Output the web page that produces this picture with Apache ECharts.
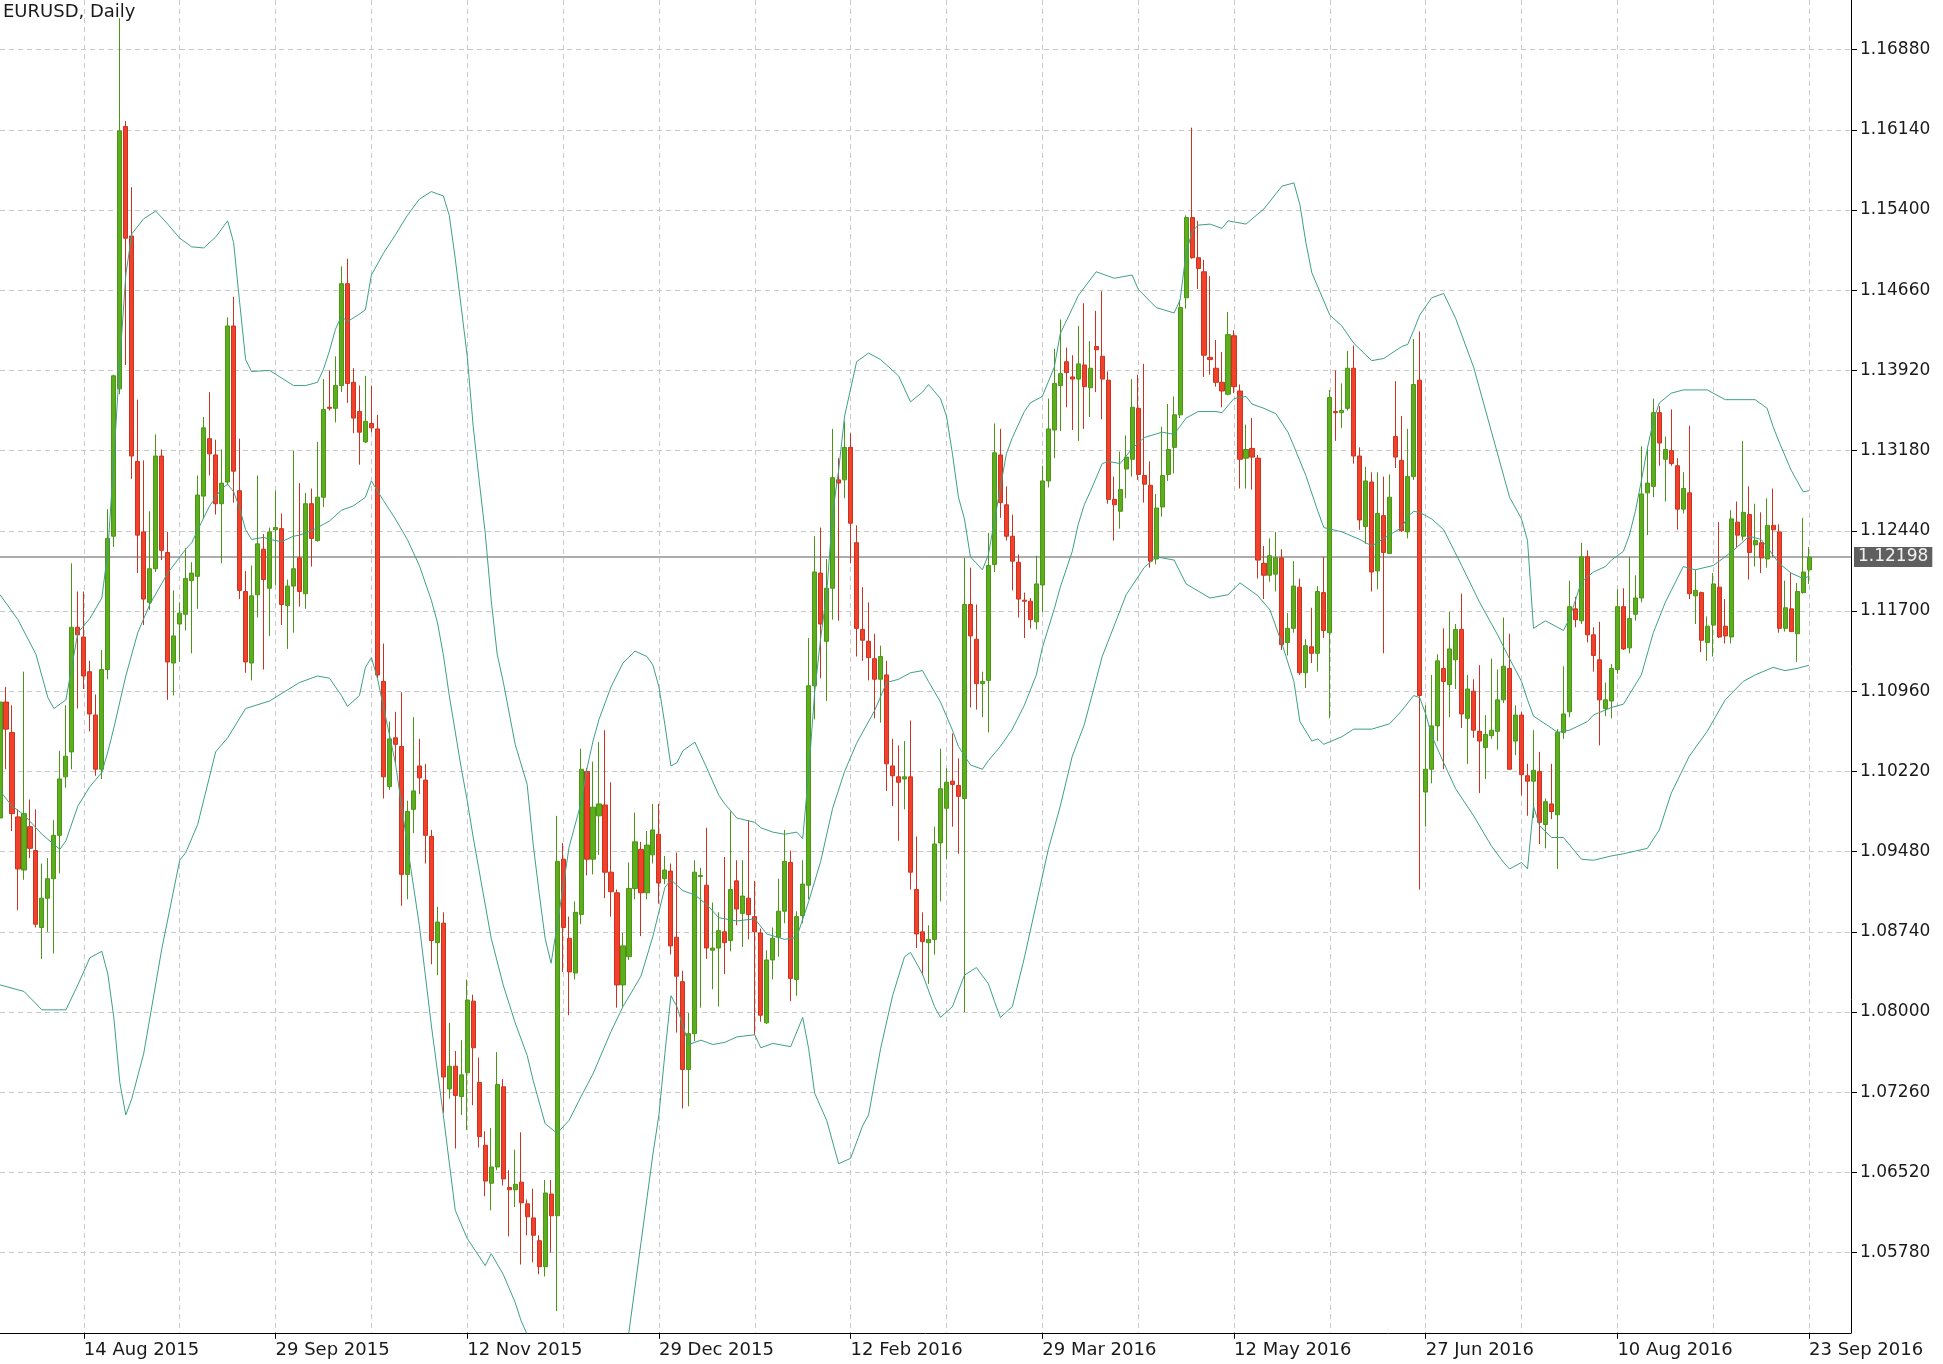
<!DOCTYPE html>
<html>
<head>
<meta charset="utf-8">
<script src="https://cdn.jsdelivr.net/npm/echarts/dist/echarts.min.js"></script>
<style>
html,body{margin:0;padding:0;background:#ffffff;}
#chart{width:1943px;height:1364px;}
</style>
</head>
<body>
<div id="chart"></div>
<script>
// ---------------- DATA ----------------
const chartTitle = 'EURUSD, Daily';
const currentPrice = 1.12198;

// daily bars, index 0 .. 302 (index 14 = 14 Aug 2015, index 302 = 23 Sep 2016)
const opens = [
1.0979,1.1086,1.1058,1.0980,1.0931,1.0971,1.0949,1.0878,1.0905,1.0923,
1.0963,1.1017,1.1040,1.1155,1.1146,1.1114,1.1074,1.1024,1.1116,1.1239,
1.1375,1.1617,1.1516,1.1308,1.1243,1.1178,1.1209,1.1313,1.1224,1.1122,
1.1158,1.1167,1.1198,1.1202,1.1276,1.1329,1.1314,1.1269,1.1289,1.1433,
1.1281,1.1188,1.1122,1.1185,1.1227,1.1191,1.1245,1.1246,1.1175,1.1193,
1.1219,1.1186,1.1269,1.1235,1.1275,1.1358,1.1357,1.1378,1.1472,1.1381,
1.1354,1.1326,1.1343,1.1338,1.1105,1.1008,1.1053,1.1045,1.0927,1.0987,
1.1027,1.1014,1.0962,1.0864,1.0882,1.0729,1.0750,1.0722,1.0744,1.0810,
1.0735,1.0677,1.0642,1.0657,1.0731,1.0638,1.0636,1.0643,1.0623,1.0610,
1.0589,1.0565,1.0632,1.0612,1.0941,1.0868,1.0836,1.0890,1.1022,1.0941,
1.0981,1.0991,1.0929,1.0910,1.0825,1.0851,1.0914,1.0950,1.0910,1.0945,
1.0964,1.0923,1.0930,1.0869,1.0828,1.0747,1.0780,1.0925,1.0917,1.0857,
1.0859,1.0874,1.0866,1.0921,1.0891,1.0905,1.0888,1.0873,1.0790,1.0848,
1.0869,1.0893,1.0938,1.0830,1.0889,1.0917,1.1101,1.1205,1.1142,1.1191,
1.1291,1.1291,1.1321,1.1233,1.1153,1.1142,1.1126,1.1107,1.1111,1.1027,
1.1017,1.1015,1.1017,1.0913,1.0874,1.0864,1.0867,1.0956,1.0988,1.1013,
1.1009,1.0997,1.1176,1.1144,1.1103,1.1106,1.1213,1.1314,1.1268,1.1239,
1.1215,1.1180,1.1179,1.1160,1.1194,1.1290,1.1337,1.1378,1.1400,1.1386,
1.1384,1.1397,1.1376,1.1414,1.1405,1.1383,1.1273,1.1262,1.1301,1.1310,
1.1357,1.1295,1.1286,1.1218,1.1266,1.1296,1.1321,1.1351,1.1459,1.1533,
1.1496,1.1483,1.1404,1.1394,1.1381,1.1370,1.1424,1.1373,1.1311,1.1320,
1.1311,1.1214,1.1203,1.1204,1.1219,1.1141,1.1154,1.1192,1.1113,1.1137,
1.1131,1.1187,1.1150,1.1354,1.1353,1.1357,1.1394,1.1313,1.1248,1.1289,
1.1207,1.1258,1.1223,1.1331,1.1309,1.1243,1.1294,1.1383,1.1003,1.1024,
1.1064,1.1117,1.1102,1.1125,1.1153,1.1071,1.1096,1.1059,1.1044,1.1055,
1.1059,1.1088,1.1117,1.1050,1.1074,1.1018,1.1013,1.1022,1.0973,1.0992,
1.0982,1.1058,1.1077,1.1172,1.1161,1.1220,1.1148,1.1125,1.1080,1.1087,
1.1116,1.1174,1.1136,1.1167,1.1182,1.1279,1.1285,1.1353,1.1310,1.1318,
1.1304,1.1264,1.1279,1.1184,1.1187,1.1141,1.1157,1.1192,1.1156,1.1146,
1.1252,1.1239,1.1259,1.1231,1.1233,1.1218,1.1249,1.1243,1.1154,1.1172,
1.1149,1.1187,1.1208
];
const highs = [
1.1103,1.1100,1.1083,1.0987,1.1114,1.0996,1.0987,1.0937,1.0942,1.0977,
1.1041,1.1083,1.1214,1.1188,1.1188,1.1124,1.1093,1.1134,1.1264,1.1388,
1.1717,1.1622,1.1561,1.1365,1.1309,1.1262,1.1333,1.1319,1.1243,1.1189,
1.1178,1.1228,1.1215,1.1295,1.1349,1.1372,1.1328,1.1319,1.1441,1.1460,
1.1329,1.1207,1.1212,1.1295,1.1241,1.1247,1.1281,1.1260,1.1199,1.1318,
1.1288,1.1279,1.1283,1.1326,1.1384,1.1392,1.1405,1.1488,1.1495,1.1394,
1.1378,1.1387,1.1378,1.1351,1.1140,1.1068,1.1077,1.1095,1.0995,1.1072,
1.1052,1.1029,1.0968,1.0897,1.0892,1.0790,1.0764,1.0774,1.0830,1.0816,
1.0758,1.0690,1.0693,1.0763,1.0738,1.0654,1.0673,1.0689,1.0627,1.0637,
1.0594,1.0645,1.0645,1.0981,1.0956,1.0888,1.0902,1.1043,1.1025,1.1031,
1.1049,1.1060,1.1012,1.0913,1.0873,1.0938,1.0984,1.0957,1.0967,1.0992,
1.0992,1.0944,1.0937,1.0947,1.0838,1.0799,1.0940,1.0933,1.0970,1.0901,
1.0892,1.0943,1.0985,1.0940,1.0940,1.0977,1.0921,1.0877,1.0857,1.0878,
1.0923,1.0968,1.0949,1.0893,1.0940,1.1145,1.1239,1.1247,1.1218,1.1338,
1.1311,1.1345,1.1334,1.1249,1.1192,1.1178,1.1149,1.1138,1.1124,1.1052,
1.1046,1.1050,1.1069,1.0962,1.0892,1.0880,1.0971,1.1043,1.1025,1.1057,
1.1034,1.1219,1.1210,1.1176,1.1114,1.1242,1.1343,1.1338,1.1285,1.1259,
1.1222,1.1187,1.1182,1.1221,1.1304,1.1366,1.1412,1.1439,1.1413,1.1406,
1.1433,1.1454,1.1419,1.1447,1.1465,1.1391,1.1294,1.1317,1.1332,1.1384,
1.1388,1.1398,1.1308,1.1278,1.1340,1.1361,1.1368,1.1457,1.1535,1.1616,
1.1530,1.1494,1.1479,1.1420,1.1409,1.1446,1.1429,1.1379,1.1342,1.1348,
1.1314,1.1230,1.1237,1.1243,1.1227,1.1168,1.1216,1.1200,1.1144,1.1173,
1.1193,1.1220,1.1374,1.1392,1.1380,1.1410,1.1415,1.1321,1.1303,1.1298,
1.1298,1.1294,1.1296,1.1382,1.1350,1.1338,1.1421,1.1428,1.1083,1.1111,
1.1130,1.1154,1.1169,1.1158,1.1186,1.1111,1.1107,1.1120,1.1074,1.1126,
1.1116,1.1164,1.1149,1.1083,1.1077,1.1029,1.1060,1.1040,1.0997,1.1029,
1.1061,1.1119,1.1198,1.1183,1.1233,1.1226,1.1155,1.1160,1.1104,1.1121,
1.1190,1.1191,1.1220,1.1203,1.1322,1.1320,1.1366,1.1359,1.1331,1.1356,
1.1311,1.1298,1.1341,1.1208,1.1188,1.1165,1.1205,1.1252,1.1181,1.1263,
1.1271,1.1327,1.1285,1.1269,1.1261,1.1274,1.1283,1.1250,1.1198,1.1205,
1.1196,1.1256,1.1229
];
const lows = [
1.0970,1.1024,1.0967,1.0894,1.0922,1.0942,1.0878,1.0849,1.0874,1.0854,
1.0928,1.1007,1.1024,1.1080,1.1098,1.1059,1.1018,1.1015,1.1107,1.1229,
1.1370,1.1397,1.1292,1.1205,1.1157,1.1171,1.1206,1.1217,1.1088,1.1092,
1.1123,1.1152,1.1131,1.1172,1.1255,1.1295,1.1259,1.1214,1.1286,1.1270,
1.1181,1.1113,1.1106,1.1164,1.1116,1.1147,1.1194,1.1157,1.1135,1.1150,
1.1174,1.1172,1.1211,1.1234,1.1266,1.1355,1.1344,1.1372,1.1362,1.1334,
1.1305,1.1325,1.1335,1.1108,1.0997,1.1005,1.1029,1.0898,1.0904,1.0965,
1.1001,1.0937,1.0844,1.0834,1.0707,1.0720,1.0674,1.0705,1.0691,1.0714,
1.0675,1.0630,1.0617,1.0654,1.0640,1.0593,1.0620,1.0567,1.0594,1.0569,
1.0558,1.0556,1.0578,1.0524,1.0837,1.0797,1.0830,1.0881,1.0926,1.0927,
1.0945,1.0905,1.0888,1.0804,1.0805,1.0848,1.0904,1.0870,1.0904,1.0937,
1.0900,1.0918,1.0853,1.0781,1.0711,1.0713,1.0773,1.0804,1.0849,1.0821,
1.0805,1.0835,1.0856,1.0880,1.0860,1.0867,1.0779,1.0791,1.0789,1.0830,
1.0851,1.0882,1.0810,1.0815,1.0882,1.0904,1.1070,1.1108,1.1087,1.1162,
1.1161,1.1274,1.1214,1.1128,1.1124,1.1106,1.1071,1.1067,1.1004,1.0990,
1.0958,1.0987,1.0913,1.0859,1.0834,1.0826,1.0853,1.0902,1.0941,1.0971,
1.0946,1.0800,1.1081,1.1079,1.1072,1.1058,1.1206,1.1256,1.1235,1.1189,
1.1164,1.1145,1.1154,1.1153,1.1169,1.1284,1.1311,1.1336,1.1358,1.1337,
1.1327,1.1338,1.1349,1.1372,1.1347,1.1269,1.1235,1.1246,1.1274,1.1294,
1.1291,1.1270,1.1210,1.1213,1.1257,1.1290,1.1297,1.1348,1.1449,1.1495,
1.1467,1.1386,1.1388,1.1377,1.1358,1.1369,1.1371,1.1283,1.1283,1.1282,
1.1200,1.1181,1.1197,1.1188,1.1134,1.1129,1.1150,1.1111,1.1099,1.1122,
1.1114,1.1145,1.1071,1.1327,1.1339,1.1355,1.1306,1.1245,1.1232,1.1188,
1.1190,1.1131,1.1223,1.1302,1.1243,1.1237,1.1291,1.0913,1.0971,1.1011,
1.1050,1.1024,1.1072,1.1098,1.1062,1.1029,1.1053,1.1002,1.1015,1.1052,
1.1042,1.1085,1.1024,1.1037,1.1000,1.0981,1.0979,1.0955,1.0951,1.0978,
1.0932,1.1052,1.1072,1.1155,1.1158,1.1141,1.1114,1.1046,1.1073,1.1071,
1.1112,1.1134,1.1131,1.1161,1.1178,1.1240,1.1275,1.1304,1.1271,1.1304,
1.1245,1.1260,1.1181,1.1158,1.1132,1.1124,1.1128,1.1145,1.1140,1.1140,
1.1229,1.1235,1.1199,1.1211,1.1205,1.1210,1.1220,1.1150,1.1151,1.1151,
1.1123,1.1186,1.1195
];
const closes = [
1.1086,1.1061,1.0983,1.0932,1.0983,1.0951,1.0881,1.0905,1.0923,1.0963,
1.1015,1.1036,1.1155,1.1148,1.1110,1.1075,1.1024,1.1116,1.1237,1.1387,
1.1613,1.1514,1.1313,1.1240,1.1181,1.1209,1.1313,1.1226,1.1123,1.1147,
1.1168,1.1200,1.1205,1.1277,1.1339,1.1315,1.1269,1.1288,1.1433,1.1299,
1.1189,1.1123,1.1184,1.1232,1.1199,1.1243,1.1247,1.1176,1.1193,1.1209,
1.1188,1.1269,1.1237,1.1275,1.1356,1.1357,1.1378,1.1472,1.1380,1.1348,
1.1335,1.1345,1.1339,1.1111,1.1017,1.1052,1.1047,1.0927,1.0985,1.1004,
1.1016,1.0963,1.0866,1.0883,1.0740,1.0750,1.0723,1.0742,1.0811,1.0767,
1.0685,1.0644,1.0657,1.0733,1.0646,1.0636,1.0641,1.0624,1.0611,1.0594,
1.0565,1.0633,1.0612,1.0939,1.0878,1.0837,1.0892,1.1024,1.0941,1.0989,
1.0992,1.0929,1.0911,1.0825,1.0861,1.0914,1.0957,1.0910,1.0954,1.0968,
1.0919,1.0931,1.0861,1.0833,1.0747,1.0780,1.0929,1.0926,1.0859,1.0859,
1.0875,1.0864,1.0913,1.0895,1.0907,1.0890,1.0874,1.0797,1.0848,1.0868,
1.0893,1.0939,1.0831,1.0888,1.0918,1.1101,1.1206,1.1158,1.1191,1.1293,
1.1288,1.1321,1.1251,1.1154,1.1143,1.1127,1.1107,1.1128,1.1029,1.1018,
1.1012,1.1017,1.0929,1.0872,1.0865,1.0867,1.0955,1.1006,1.1012,1.1010,
1.0999,1.1176,1.1147,1.1103,1.1105,1.1212,1.1316,1.1270,1.1239,1.1216,
1.1181,1.1179,1.1162,1.1195,1.1290,1.1338,1.1380,1.1389,1.1390,1.1384,
1.1398,1.1377,1.1394,1.1411,1.1384,1.1273,1.1268,1.1282,1.1312,1.1358,
1.1296,1.1287,1.1216,1.1265,1.1295,1.1319,1.1351,1.1450,1.1533,1.1496,
1.1486,1.1406,1.1402,1.1381,1.1373,1.1425,1.1377,1.1310,1.1319,1.1312,
1.1217,1.1203,1.1221,1.1219,1.1139,1.1154,1.1193,1.1113,1.1138,1.1131,
1.1188,1.1152,1.1367,1.1353,1.1355,1.1394,1.1313,1.1254,1.1290,1.1206,
1.1260,1.1224,1.1275,1.1312,1.1244,1.1294,1.1379,1.1092,1.1024,1.1064,
1.1124,1.1105,1.1135,1.1153,1.1075,1.1098,1.1060,1.1050,1.1056,1.1060,
1.1088,1.1119,1.1024,1.1074,1.1019,1.1013,1.1023,1.0975,1.0994,1.0985,
1.1058,1.1075,1.1174,1.1162,1.1220,1.1148,1.1129,1.1088,1.1088,1.1117,
1.1174,1.1135,1.1163,1.1182,1.1278,1.1288,1.1353,1.1325,1.1319,1.1306,
1.1264,1.1283,1.1186,1.1189,1.1143,1.1156,1.1195,1.1146,1.1147,1.1255,
1.1240,1.1261,1.1224,1.1235,1.1219,1.1249,1.1245,1.1154,1.1173,1.1151,
1.1188,1.1206,1.12198
];

// Bollinger bands: [bar index, price]
const upperBand = [
[0,1.1185],[3,1.1162],[6,1.1130],[8,1.1090],[9,1.1080],[11,1.1088],[13,1.1150],[15,1.1163],[17,1.1182],[18,1.1225],[19,1.1310],[20,1.1400],[21,1.1480],[22,1.1518],[24,1.1532],[26,1.1539],[28,1.1527],[30,1.1514],[32,1.1506],[34,1.1505],[36,1.1515],[38,1.1530],[39,1.1510],[40,1.1455],[41,1.1402],[42,1.1391],[45,1.1392],[47,1.1385],[49,1.1378],[51,1.1378],[53,1.1381],[54,1.1393],[55,1.1410],[56,1.1430],[57,1.1442],[58,1.1437],[60,1.1444],[61,1.1448],[62,1.1480],[64,1.1500],[66,1.1517],[68,1.1535],[70,1.1550],[72,1.1557],[74,1.1553],[75,1.1535],[76,1.1495],[77,1.1450],[78,1.1405],[79,1.1340],[80,1.1290],[81,1.1242],[82,1.1180],[83,1.1130],[84,1.1105],[86,1.1047],[88,1.1010],[89,1.0955],[90,1.0910],[91,1.0868],[92,1.0845],[93,1.0880],[94,1.0915],[95,1.0952],[97,1.0993],[98,1.1025],[99,1.1050],[100,1.1070],[102,1.1100],[104,1.1122],[106,1.1133],[108,1.1128],[109,1.1120],[110,1.1100],[111,1.1065],[112,1.1027],[113,1.1030],[114,1.1041],[116,1.1049],[118,1.1025],[120,1.1000],[121,1.0992],[123,1.0979],[126,1.0975],[127,1.0970],[129,1.0966],[131,1.0964],[133,1.0966],[134,1.0960],[135,1.1021],[136,1.1095],[137,1.1145],[138,1.1186],[139,1.1260],[140,1.1300],[141,1.1350],[143,1.1400],[145,1.1408],[147,1.1402],[149,1.1392],[150,1.1387],[152,1.1363],[154,1.1372],[155,1.1379],[157,1.1366],[158,1.1350],[159,1.1315],[160,1.1275],[161,1.1255],[162,1.1220],[164,1.1208],[165,1.1222],[167,1.1284],[168,1.1315],[169,1.1330],[171,1.1354],[172,1.1362],[174,1.1368],[176,1.1395],[177,1.1426],[179,1.1449],[180,1.1461],[183,1.1483],[186,1.1477],[189,1.1480],[190,1.1467],[193,1.1450],[196,1.1445],[197,1.1457],[198,1.1500],[199,1.1520],[200,1.1526],[202,1.1527],[204,1.1523],[205,1.1530],[208,1.1527],[211,1.1541],[214,1.1562],[216,1.1565],[217,1.1545],[218,1.1510],[219,1.1482],[222,1.1443],[224,1.1433],[226,1.1417],[229,1.1401],[231,1.1403],[234,1.1414],[235,1.1416],[236,1.1429],[237,1.1443],[239,1.1459],[241,1.1463],[243,1.1440],[246,1.1395],[249,1.1335],[252,1.1275],[254,1.1255],[255,1.1235],[256,1.1154],[258,1.1161],[261,1.1152],[262,1.1163],[264,1.1197],[266,1.1206],[268,1.1211],[269,1.1217],[271,1.1225],[272,1.1240],[273,1.1262],[274,1.1290],[275,1.1320],[276,1.1345],[277,1.1362],[279,1.1371],[281,1.1374],[285,1.1374],[288,1.1365],[293,1.1365],[295,1.1357],[296,1.1340],[297,1.1326],[299,1.1300],[301,1.1280],[302,1.1281]
];
const middleBand = [
[0,1.1004],[2,1.0990],[4,1.0982],[7,1.0964],[10,1.0950],[11,1.0958],[13,1.0990],[15,1.1008],[17,1.1021],[18,1.1040],[19,1.1062],[21,1.1110],[23,1.1150],[25,1.1176],[28,1.1205],[31,1.1227],[32,1.1233],[34,1.1256],[35,1.1267],[37,1.1283],[38,1.1287],[39,1.1280],[40,1.1265],[41,1.1245],[42,1.1236],[44,1.1238],[45,1.1236],[47,1.1234],[49,1.1239],[50,1.1240],[52,1.1244],[54,1.1250],[55,1.1253],[57,1.1263],[59,1.1267],[61,1.1275],[62,1.1290],[64,1.1272],[66,1.1255],[68,1.1236],[70,1.1212],[72,1.1180],[73,1.1160],[74,1.1130],[75,1.1092],[77,1.1025],[78,1.0995],[79,1.0961],[82,1.0868],[84,1.0825],[86,1.0790],[88,1.0760],[89,1.0737],[91,1.0697],[93,1.0688],[95,1.0700],[97,1.0722],[99,1.0743],[102,1.0782],[104,1.0805],[107,1.0833],[109,1.0870],[111,1.0915],[112,1.0922],[114,1.0912],[116,1.0908],[118,1.0899],[120,1.0887],[123,1.0884],[126,1.0886],[128,1.0872],[131,1.0867],[133,1.0869],[135,1.0902],[137,1.0939],[139,1.0988],[141,1.1022],[143,1.1048],[146,1.1078],[148,1.1104],[150,1.1107],[152,1.1113],[154,1.1115],[155,1.1105],[157,1.1086],[159,1.1060],[160,1.1045],[162,1.1028],[164,1.1024],[165,1.1032],[167,1.1045],[169,1.1061],[171,1.1083],[173,1.1111],[174,1.1136],[176,1.1172],[177,1.1192],[179,1.1225],[180,1.1250],[181,1.1268],[182,1.1280],[184,1.1306],[185,1.1308],[187,1.1306],[189,1.1320],[191,1.1330],[194,1.1335],[196,1.1333],[198,1.1348],[200,1.1354],[203,1.1354],[204,1.1353],[206,1.1366],[208,1.1368],[209,1.1361],[211,1.1357],[213,1.1352],[215,1.1335],[216,1.1322],[218,1.1295],[220,1.1262],[221,1.1247],[224,1.1243],[227,1.1236],[229,1.1230],[231,1.1237],[234,1.1247],[235,1.1257],[236,1.1262],[237,1.1261],[239,1.1255],[241,1.1245],[244,1.1212],[247,1.1178],[250,1.1148],[252,1.1126],[254,1.1105],[255,1.1088],[256,1.1073],[259,1.1062],[260,1.1058],[262,1.1060],[265,1.1068],[266,1.1074],[269,1.1081],[271,1.1084],[274,1.1111],[276,1.1150],[278,1.1178],[279,1.1189],[281,1.1211],[283,1.1208],[286,1.1212],[288,1.1220],[290,1.1229],[292,1.1239],[294,1.1236],[295,1.1229],[297,1.1214],[299,1.1205],[301,1.1200],[302,1.1202]
];
const lowerBand = [
[0,1.0825],[4,1.0819],[7,1.0802],[11,1.0802],[13,1.0825],[15,1.0850],[17,1.0856],[18,1.0835],[19,1.0795],[20,1.0735],[21,1.0705],[22,1.0720],[24,1.0762],[27,1.0858],[30,1.0940],[31,1.0947],[33,1.0973],[36,1.1040],[38,1.1053],[41,1.1080],[45,1.1087],[50,1.1104],[53,1.1110],[55,1.1108],[57,1.1092],[58,1.1082],[60,1.1092],[61,1.1118],[62,1.1127],[63,1.1108],[66,1.1030],[68,1.0954],[70,1.0880],[72,1.0788],[74,1.0705],[76,1.0617],[78,1.0591],[81,1.0566],[82,1.0577],[84,1.0558],[86,1.0532],[87,1.0515],[89,1.0490],[93,1.0440],[99,1.0420],[103,1.0460],[105,1.0505],[107,1.0587],[109,1.0669],[110,1.0705],[111,1.0762],[112,1.0815],[113,1.0805],[114,1.0787],[115,1.0770],[117,1.0774],[119,1.0770],[121,1.0772],[123,1.0777],[126,1.0779],[127,1.0767],[129,1.0771],[132,1.0768],[134,1.0795],[135,1.0766],[136,1.0725],[138,1.0700],[140,1.0660],[142,1.0665],[144,1.0695],[145,1.0705],[147,1.0766],[149,1.0815],[151,1.0851],[152,1.0855],[154,1.0835],[156,1.0805],[157,1.0795],[159,1.0805],[161,1.0834],[163,1.0841],[165,1.0826],[166,1.0810],[167,1.0795],[169,1.0805],[171,1.0850],[173,1.0900],[175,1.0950],[177,1.0990],[179,1.1036],[181,1.1065],[184,1.1128],[188,1.1185],[191,1.1210],[193,1.1220],[196,1.1217],[198,1.1195],[202,1.1182],[205,1.1185],[207,1.1196],[210,1.1184],[212,1.1171],[214,1.1140],[216,1.1105],[217,1.1068],[219,1.1050],[220,1.1052],[221,1.1047],[224,1.1054],[226,1.1061],[229,1.1061],[232,1.1066],[234,1.1078],[236,1.1092],[237,1.1090],[238,1.1075],[239,1.1055],[241,1.1030],[243,1.1006],[246,1.0981],[249,1.0953],[251,1.0938],[252,1.0932],[254,1.0938],[255,1.0932],[256,1.0990],[257,1.0972],[259,1.0961],[261,1.0961],[264,1.0941],[266,1.0940],[269,1.0944],[271,1.0946],[275,1.0951],[277,1.0968],[279,1.1002],[282,1.1036],[285,1.1059],[288,1.1088],[291,1.1105],[293,1.1111],[296,1.1118],[298,1.1115],[300,1.1117],[302,1.1120]
];

// axis labels
const xTickLabels = ['14 Aug 2015','29 Sep 2015','12 Nov 2015','29 Dec 2015','12 Feb 2016','29 Mar 2016','12 May 2016','27 Jun 2016','10 Aug 2016','23 Sep 2016'];
const firstLabelBar = 14;
const barsPerLabel = 32;
const barsPerGridLine = 16;
const totalSlots = 310;            // bars plus empty space to the right edge
const yMin = 1.0504, yMax = 1.173377, yStep = 0.0074;

// ---------------- CHART ----------------
const FONT = 'DejaVu Sans';
const categories = Array.from({length: totalSlots}, (_, i) => String(i));
const candleData = opens.map((o, i) => [o, closes[i], lows[i], highs[i]]);
const priceLineData = [[0, currentPrice], [totalSlots - 1, currentPrice]];
const isLabelBar = i => i >= firstLabelBar && (i - firstLabelBar) % barsPerLabel === 0 && ((i - firstLabelBar) / barsPerLabel) < xTickLabels.length;
const isGridBar = i => i >= firstLabelBar && (i - firstLabelBar) % barsPerGridLine === 0 && i < opens.length;

const gridLine = {color: '#c9c9c9', width: 1, type: [5, 4]};
const bandStyle = {color: '#3f9f88', width: 1};

const chart = echarts.init(document.getElementById('chart'), null, {renderer: 'canvas'});
chart.setOption({
  animation: false,
  backgroundColor: '#ffffff',
  title: {
    text: chartTitle, left: 3, top: 3, padding: 0,
    textStyle: {fontFamily: FONT, fontSize: 18, fontWeight: 'normal', color: '#1a1a1a'}
  },
  grid: {left: -1.7, right: 92, top: 0, bottom: 31.2, containLabel: false},
  xAxis: {
    type: 'category',
    data: categories,
    boundaryGap: false,
    axisLine: {show: true, lineStyle: {color: '#000', width: 1}},
    axisTick: {show: true, length: 6, interval: (i) => isLabelBar(i), lineStyle: {color: '#000'}},
    axisLabel: {
      interval: (i) => isLabelBar(i),
      formatter: (v, i) => isLabelBar(i) ? xTickLabels[(i - firstLabelBar) / barsPerLabel] : '',
      align: 'left', margin: 9,
      fontFamily: FONT, fontSize: 18, color: '#1a1a1a'
    },
    splitLine: {show: true, interval: (i) => isGridBar(i), lineStyle: gridLine}
  },
  yAxis: {
    type: 'value', position: 'right',
    min: yMin, max: yMax, interval: yStep, scale: true,
    axisLine: {show: true, lineStyle: {color: '#000', width: 1}},
    axisTick: {show: true, length: 6, lineStyle: {color: '#000'}},
    axisLabel: {
      showMinLabel: false, showMaxLabel: false,
      formatter: v => v.toFixed(5),
      margin: 9, fontFamily: FONT, fontSize: 17, color: '#1a1a1a'
    },
    splitLine: {show: true, showMinLine: false, showMaxLine: false, lineStyle: gridLine}
  },
  series: [
    {
      type: 'candlestick',
      data: candleData,
      barWidth: 4.6,
      z: 3,
      itemStyle: {
        color: '#5cae1c', color0: '#f2402a',
        borderColor: '#4b9614', borderColor0: '#c93421', borderWidth: 1
      }
    },
    {type: 'line', data: upperBand, symbol: 'none', silent: true, z: 4, lineStyle: bandStyle},
    {type: 'line', data: middleBand, symbol: 'none', silent: true, z: 4, lineStyle: bandStyle},
    {type: 'line', data: lowerBand, symbol: 'none', silent: true, z: 4, lineStyle: bandStyle},
    {
      type: 'line', data: priceLineData, symbol: 'none', silent: true, z: 2,
      lineStyle: {color: '#5a5a5a', width: 1},
      endLabel: {
        show: true, distance: 3,
        formatter: () => currentPrice.toFixed(5),
        backgroundColor: '#5f5f5f', color: '#f2f2f2',
        padding: [2, 4, 1, 4],
        fontFamily: FONT, fontSize: 17
      }
    }
  ]
});
</script>
</body>
</html>
